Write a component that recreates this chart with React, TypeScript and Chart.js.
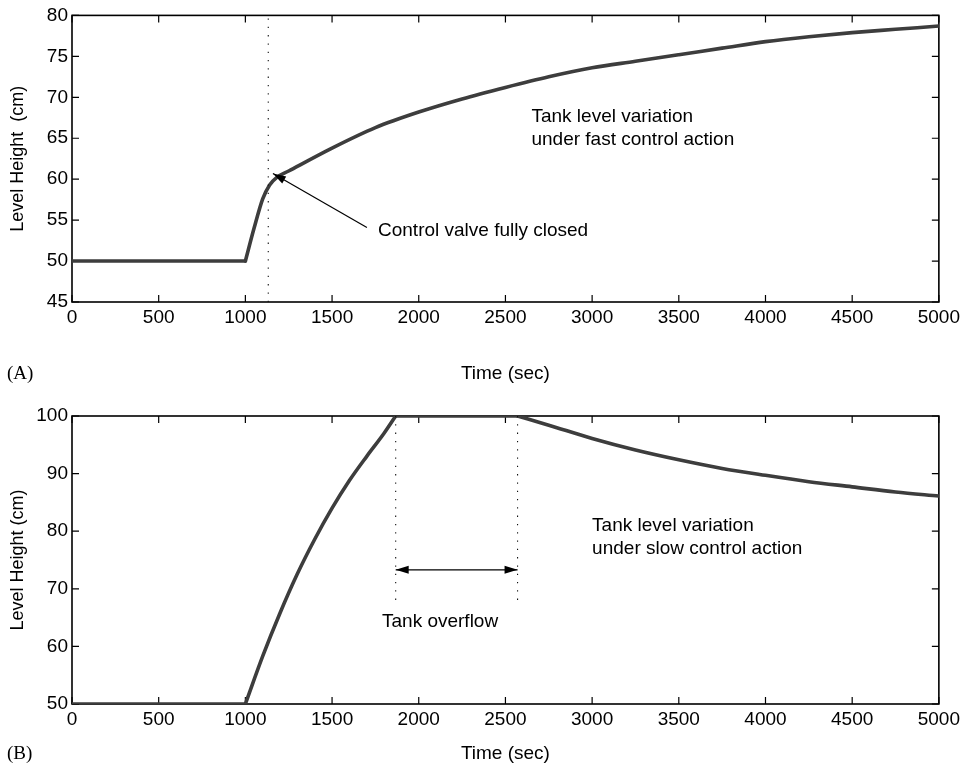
import React, { useEffect, useRef } from "react";
import { Chart, registerables } from "chart.js";

Chart.register(...registerables);

// ---------- Data ----------
// Panel (A): tank level under fast control action
const timeA = [0, 1000, 1050, 1100, 1140, 1180, 1250, 1500, 1750, 2000, 2250, 2500, 2750, 3000, 3250, 3500, 3750, 4000, 4250, 4500, 4750, 5000];
const levelA = [50, 50, 54.0, 57.6, 59.3, 60.2, 61.0, 63.8, 66.3, 68.2, 69.8, 71.2, 72.5, 73.6, 74.4, 75.2, 76.0, 76.8, 77.4, 77.9, 78.3, 78.7];
const cornerTimesA = [1000];
const valveClosedTimeA = 1132;
const valveArrowFromA = [1701, 54.1];
const valveArrowToA = [1159, 60.7];

// Panel (B): tank level under slow control action
const timeB = [0, 1000, 1100, 1200, 1300, 1400, 1500, 1600, 1700, 1800, 1867, 2570, 2750, 3000, 3250, 3500, 3750, 4000, 4250, 4500, 4750, 5000];
const levelB = [50, 50, 58.3, 65.8, 72.6, 78.6, 84.0, 88.8, 93.0, 97.0, 100, 100, 98.4, 96.1, 94.1, 92.4, 90.9, 89.7, 88.6, 87.7, 86.8, 86.1];
const cornerTimesB = [1000, 1867, 2570];
const overflowStartB = 1867;
const overflowEndB = 2570;
const overflowArrowLevelB = 73.3;
const overflowDottedBottomB = 67.2;

// Axis ranges / tick steps
const xRange = [0, 5000];
const xStep = 500;
const yRangeA = [45, 80];
const yStepA = 5;
const yRangeB = [50, 100];
const yStepB = 10;

// Texts
const yTitleA = "Level Height  (cm)";
const yTitleB = "Level Height (cm)";
const xTitle = "Time (sec)";
const notesA = [
  { x: 2650, y: 67.04, lines: ["Tank level variation", "under fast control action"] },
  { x: 1765, y: 53.0, lines: ["Control valve fully closed"] },
];
const notesB = [
  { x: 3000, y: 80.0, lines: ["Tank level variation", "under slow control action"] },
  { x: 1788, y: 63.4, lines: ["Tank overflow"] },
];

// ---------- Styling ----------
const SANS = "'Liberation Sans', Arial, Helvetica, sans-serif";
const SERIF = "'Liberation Serif', 'Times New Roman', Times, serif";
const FONT_SIZE = 19;
const LINE_COLOR = "#3d3d3d";

type Panel = {
  time: number[];
  level: number[];
  corners: number[];
  yRange: number[];
  yStep: number;
  yTitle: string;
  label: string;
  dotted: { x: number; y0: number; y1: number }[];
  arrows: { from: number[]; to: number[]; both: boolean }[];
  notes: { x: number; y: number; lines: string[] }[];
  height: number;
  padTop: number;
  xAxisHeight: number;
  titlePadBottom: number;
};

function drawHead(ctx: CanvasRenderingContext2D, x1: number, y1: number, x2: number, y2: number) {
  const len = 13;
  const hw = 4;
  const a = Math.atan2(y2 - y1, x2 - x1);
  const bx = x2 - len * Math.cos(a);
  const by = y2 - len * Math.sin(a);
  ctx.beginPath();
  ctx.moveTo(x2, y2);
  ctx.lineTo(bx - hw * Math.sin(a), by + hw * Math.cos(a));
  ctx.lineTo(bx + hw * Math.sin(a), by - hw * Math.cos(a));
  ctx.closePath();
  ctx.fill();
}

// split the series into smooth pieces at the corner times
function pieces(time: number[], level: number[], corners: number[]) {
  const out: { x: number; y: number }[][] = [];
  let cur: { x: number; y: number }[] = [];
  time.forEach((t, i) => {
    cur.push({ x: t, y: level[i] });
    if (corners.includes(t)) {
      out.push(cur);
      cur = [{ x: t, y: level[i] }];
    }
  });
  if (cur.length > 1) out.push(cur);
  return out;
}

function PanelChart({ p, top }: { p: Panel; top: number }) {
  const ref = useRef<HTMLCanvasElement>(null);

  useEffect(() => {
    const canvas = ref.current!;
    const datasets: any[] = p.dotted.map((d) => ({
      data: [
        { x: d.x, y: d.y0 },
        { x: d.x, y: d.y1 },
      ],
      borderColor: "#111",
      borderWidth: 1.1,
      borderDash: [1.3, 7],
      pointRadius: 0,
      tension: 0,
    }));
    for (const seg of pieces(p.time, p.level, p.corners)) {
      datasets.push({
        data: seg,
        borderColor: LINE_COLOR,
        borderWidth: 3.6,
        pointRadius: 0,
        cubicInterpolationMode: "monotone",
        borderJoinStyle: "round",
        borderCapStyle: "round",
      });
    }

    const frame = {
      id: "frame",
      beforeDatasetsDraw(chart: any) {
        const { ctx, chartArea } = chart;
        const { left, right, top: t, bottom } = chartArea;
        const xs = chart.scales.x;
        const ys = chart.scales.y;
        const TL = 7;
        ctx.save();
        ctx.strokeStyle = "#000";
        ctx.lineWidth = 1.2;
        ctx.beginPath();
        for (const tk of xs.ticks) {
          const px = xs.getPixelForValue(tk.value);
          ctx.moveTo(px, bottom);
          ctx.lineTo(px, bottom - TL);
          ctx.moveTo(px, t);
          ctx.lineTo(px, t + TL);
        }
        for (const tk of ys.ticks) {
          const py = ys.getPixelForValue(tk.value);
          ctx.moveTo(left, py);
          ctx.lineTo(left + TL, py);
          ctx.moveTo(right, py);
          ctx.lineTo(right - TL, py);
        }
        ctx.stroke();
        ctx.lineWidth = 1.6;
        ctx.strokeRect(left, t, right - left, bottom - t);
        ctx.restore();
      },
      afterDatasetsDraw(chart: any) {
        const { ctx } = chart;
        const xs = chart.scales.x;
        const ys = chart.scales.y;
        ctx.save();
        ctx.strokeStyle = "#000";
        ctx.fillStyle = "#000";
        ctx.lineWidth = 1.2;
        for (const a of p.arrows) {
          const x1 = xs.getPixelForValue(a.from[0]);
          const y1 = ys.getPixelForValue(a.from[1]);
          const x2 = xs.getPixelForValue(a.to[0]);
          const y2 = ys.getPixelForValue(a.to[1]);
          ctx.beginPath();
          ctx.moveTo(x1, y1);
          ctx.lineTo(x2, y2);
          ctx.stroke();
          drawHead(ctx, x1, y1, x2, y2);
          if (a.both) drawHead(ctx, x2, y2, x1, y1);
        }
        ctx.font = `${FONT_SIZE}px ${SANS}`;
        ctx.textAlign = "left";
        ctx.textBaseline = "alphabetic";
        for (const n of p.notes) {
          const x = xs.getPixelForValue(n.x);
          const y = ys.getPixelForValue(n.y);
          n.lines.forEach((line, i) => ctx.fillText(line, x, y + i * 23));
        }
        ctx.restore();
      },
      afterDraw(chart: any) {
        const { ctx } = chart;
        const xs = chart.scales.x;
        const y = xs.bottom - (FONT_SIZE * 1.2) / 2 - p.titlePadBottom;
        ctx.save();
        ctx.font = `${FONT_SIZE}px ${SERIF}`;
        ctx.fillStyle = "#000";
        ctx.textAlign = "left";
        ctx.textBaseline = "middle";
        ctx.fillText(p.label, 7, y);
        ctx.restore();
      },
    };

    const tickFont = { family: SANS, size: FONT_SIZE };
    const plain = (v: any) => String(v);
    const chart = new Chart(canvas, {
      type: "line",
      data: { datasets },
      options: {
        animation: false,
        responsive: false,
        events: [],
        layout: { padding: { top: p.padTop, right: 25, left: 0, bottom: 0 } },
        plugins: { legend: { display: false }, tooltip: { enabled: false } },
        scales: {
          x: {
            type: "linear",
            min: xRange[0],
            max: xRange[1],
            ticks: { stepSize: xStep, font: tickFont, color: "#000", padding: 4, maxRotation: 0, autoSkip: false, callback: plain },
            grid: { display: false, drawTicks: false },
            border: { display: false },
            title: { display: true, text: xTitle, font: tickFont, color: "#000", padding: { top: 0, bottom: p.titlePadBottom } },
            afterFit: (s: any) => {
              s.height = p.xAxisHeight;
            },
          },
          y: {
            type: "linear",
            min: p.yRange[0],
            max: p.yRange[1],
            ticks: { stepSize: p.yStep, font: tickFont, color: "#000", padding: 4, callback: plain },
            grid: { display: false, drawTicks: false },
            border: { display: false },
            title: { display: true, text: p.yTitle, font: { family: SANS, size: 18 }, color: "#000", padding: { top: 7, bottom: 0 } },
            afterFit: (s: any) => {
              s.width = 72;
            },
          },
        },
      } as any,
      plugins: [frame],
    });
    return () => chart.destroy();
  }, [p]);

  return (
    <canvas
      ref={ref}
      width={964}
      height={p.height}
      style={{ position: "absolute", left: 0, top, width: 964, height: p.height, display: "block" }}
    />
  );
}

const panelA: Panel = {
  time: timeA,
  level: levelA,
  corners: cornerTimesA,
  yRange: yRangeA,
  yStep: yStepA,
  yTitle: yTitleA,
  label: "(A)",
  dotted: [{ x: valveClosedTimeA, y0: yRangeA[0], y1: yRangeA[1] }],
  arrows: [{ from: valveArrowFromA, to: valveArrowToA, both: false }],
  notes: notesA,
  height: 385,
  padTop: 13,
  xAxisHeight: 83,
  titlePadBottom: 0,
};

const panelB: Panel = {
  time: timeB,
  level: levelB,
  corners: cornerTimesB,
  yRange: yRangeB,
  yStep: yStepB,
  yTitle: yTitleB,
  label: "(B)",
  dotted: [
    { x: overflowStartB, y0: yRangeB[1], y1: overflowDottedBottomB },
    { x: overflowEndB, y0: yRangeB[1], y1: overflowDottedBottomB },
  ],
  arrows: [{ from: [overflowStartB, overflowArrowLevelB], to: [overflowEndB, overflowArrowLevelB], both: true }],
  notes: notesB,
  height: 386,
  padTop: 31,
  xAxisHeight: 67,
  titlePadBottom: 6,
};

export default function App() {
  return (
    <div style={{ position: "absolute", left: 0, top: 0, width: 964, height: 771, background: "#fff" }}>
      <PanelChart p={panelA} top={0} />
      <PanelChart p={panelB} top={385} />
    </div>
  );
}
